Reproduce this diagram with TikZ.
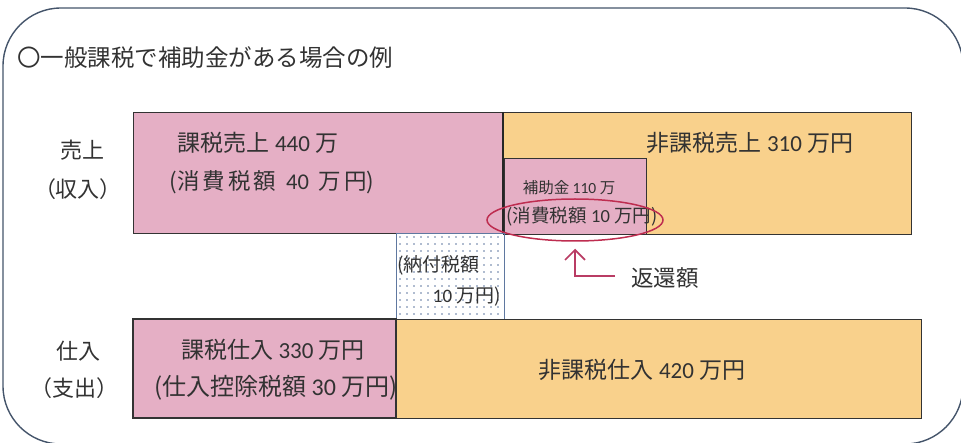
\documentclass[tikz,border=0pt]{standalone}
\usepackage{fontspec}
\setmainfont{Noto Sans CJK JP}
\newfontfamily\numf{Carlito}
\newcommand{\nm}[1]{{\numf #1}}
\usetikzlibrary{shapes.geometric,arrows.meta}
\definecolor{pinkf}{RGB}{229,175,197}
\definecolor{orangef}{RGB}{249,209,140}
\definecolor{framec}{RGB}{68,84,106}
\definecolor{ringc}{RGB}{190,45,80}
\definecolor{arrowc}{RGB}{185,60,100}
\definecolor{txt}{RGB}{50,50,50}
\definecolor{dotc}{RGB}{95,120,160}
\begin{document}
\begin{tikzpicture}[x=1pt,y=-1pt,
  box/.style={draw=black!80, line width=0.9pt, inner sep=0pt, outer sep=0pt, anchor=north west},
  lbl/.style={text=txt, inner sep=0pt, font=\fontsize{#1}{#1}\selectfont}]
\useasboundingbox (0,0) rectangle (961,443);
% outer frame
\draw[framec, line width=1.4pt, rounded corners=58pt] (3,8) rectangle (963,444);
\node[lbl=23.5, anchor=west] (title) at (17,58) {〇一般課税で補助金がある場合の例};
% row labels
\node[lbl=22] (salesA) at (82,150) {売上};
\node[lbl=22] (salesB) at (78,189) {（収入）};
\node[lbl=22] (buyA) at (78,351) {仕入};
\node[lbl=22] (buyB) at (74,388) {（支出）};
% sales boxes
\node[box, fill=pinkf, minimum width=370pt, minimum height=121pt] (taxsales) at (133,112) {};
\node[box, fill=orangef, minimum width=408pt, minimum height=122pt] (nontaxsales) at (503,112) {};
\node[box, fill=pinkf, minimum width=142pt, minimum height=76pt] (subsidy) at (504,158) {};
\draw[line width=2pt, black!85] (nontaxsales.north west) -- (nontaxsales.south west);
\node[lbl=23] (t1) at (258,143) {課税売上 \nm{440} 万};
\node[lbl=22.5] (t2) at (272,182) {(消\kern3pt 費\kern3pt 税\kern3pt 額\kern10pt \nm{40}\kern10pt 万\kern3pt 円)};
\node[lbl=23] (t3) at (750,143) {非課税売上 \nm{310} 万円};
\node[lbl=15.5] (t4) at (569,188) {補助金 \nm{110} 万};
\node[lbl=18.5] (t5) at (582,217) {(消費税額 \nm{10} 万円)};
\node[ellipse, draw=ringc, line width=1.5pt, minimum width=176pt, minimum height=42pt, inner sep=0pt] (ring) at (575,220) {};
% paid tax box
\node[draw=dotc, line width=0.6pt, minimum width=108pt, minimum height=86pt, inner sep=0pt, outer sep=0pt, anchor=north west] (paybox) at (396,233) {};
\foreach \i in {0,...,14} {\foreach \j in {0,...,11} {
  \fill[dotc] (400+7*\i, 237+7*\j) circle (0.8pt);}}
\node[lbl=19, anchor=west] (t6) at (397,265) {(納付税額};
\node[lbl=19, anchor=east] (t7) at (501,297) {\nm{10} 万円)};
% arrow
\coordinate (armend) at (615,276);
\draw[arrowc, line width=1.7pt, -{Straight Barb[length=10pt,width=20pt]}] (armend) -| ([yshift=-7pt]ring.south);
\node[lbl=22.5, anchor=west] (ret) at (631,278) {返還額};
% purchase boxes
\node[box, fill=pinkf, line width=1.3pt, minimum width=263pt, minimum height=99pt] (taxbuy) at (133,319) {};
\node[lbl=23] (t8) at (273,350) {課税仕入 \nm{330} 万円};
\node[lbl=24, anchor=west] (t9) at (154,388) {(仕入控除税額 \nm{30} 万円)};
\node[box, fill=orangef, minimum width=525pt, minimum height=99pt] (nontaxbuy) at (396,319) {};
\node[lbl=23] (t10) at (642,370) {非課税仕入 \nm{420} 万円};
\end{tikzpicture}
\end{document}
